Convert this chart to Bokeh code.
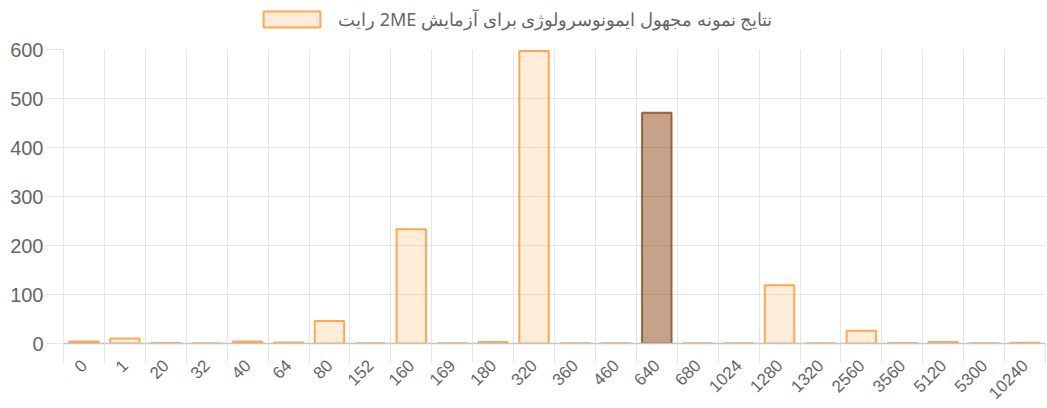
import math
from bokeh.plotting import figure
from bokeh.layouts import column
from bokeh.models import ColumnDataSource, FixedTicker, Legend, LegendItem, Range1d
from bokeh.embed import file_html
from bokeh.resources import INLINE

categories = ["0", "1", "20", "32", "40", "64", "80", "152", "160", "169", "180", "320",
              "360", "460", "640", "680", "1024", "1280", "1320", "2560", "3560", "5120",
              "5300", "10240"]
values = [4, 10, 1, 0.5, 4, 2, 46, 0.5, 233, 0.5, 3, 597,
          0.5, 0.5, 471, 0.5, 0.5, 119, 0.5, 26, 1, 3, 0.5, 1.5]
highlight = "640"
series_label = "نتایج نمونه مجهول ایمونوسرولوژی برای آزمایش 2ME رایت"
y_ticks = [0, 100, 200, 300, 400, 500, 600]

base_fill = "#FF9F40"
hi_fill = "#8B4513"

n = len(categories)
xs = [i + 0.5 for i in range(n)]
fills = [hi_fill if c == highlight else base_fill for c in categories]
fill_alpha = [0.5 if c == highlight else 0.2 for c in categories]
lines = [hi_fill if c == highlight else base_fill for c in categories]
line_alpha = [0.8 if c == highlight else 0.9 for c in categories]

src = ColumnDataSource(dict(x=xs, top=values, fill=fills, fa=fill_alpha, line=lines, la=line_alpha))

# ---- legend strip on top (frames are aligned with the main chart by the column layout) ----
lg = figure(width=1047, height=37, output_backend="svg", toolbar_location=None,
            x_range=Range1d(0, n), y_range=Range1d(0, 600),
            min_border_left=63, min_border_right=2, min_border_top=0, min_border_bottom=0)
lg.axis.visible = False
lg.grid.visible = False
lg.outline_line_color = None
legend_r = lg.vbar(x="x", top="top", bottom=0, width=0.72, source=src,
                   fill_color="fill", fill_alpha="fa", line_color="line", line_alpha="la",
                   line_width=2, visible=False)
legend = Legend(items=[LegendItem(label="\u202b" + series_label + "\u202c", renderers=[legend_r], index=0)],
                orientation="horizontal", location=(193, 6),
                glyph_width=71, glyph_height=20, label_text_font="Noto Sans",
                label_text_font_size="18px", label_text_color="#666666",
                border_line_color=None, background_fill_alpha=0,
                padding=0, margin=0, spacing=0, label_standoff=11)
lg.add_layout(legend, "center")

# ---- main chart ----
p = figure(width=1047, height=371, output_backend="svg", toolbar_location=None,
           x_range=Range1d(0, n), y_range=Range1d(0, 600),
           min_border_left=63, min_border_right=2, min_border_bottom=65, min_border_top=12)
p.outline_line_color = None

r = p.vbar(x="x", top="top", bottom=0, width=0.72, source=src,
           fill_color="fill", fill_alpha="fa", line_color="line", line_alpha="la", line_width=2)

# x axis: labels at category centres, tick marks and grid at category boundaries
p.xaxis.ticker = FixedTicker(ticks=xs, minor_ticks=list(range(n + 1)))
p.xaxis.major_label_overrides = {x: c for x, c in zip(xs, categories)}
p.xaxis.major_tick_line_color = None
p.xaxis.minor_tick_out = 19
p.xaxis.minor_tick_in = 0
p.xaxis.minor_tick_line_color = "#e6e6e6"
p.xaxis.axis_line_color = "#c4c4c4"
p.xaxis.axis_line_width = 1.5
p.xaxis.major_label_orientation = math.pi / 4
p.xaxis.major_label_text_font = "Liberation Sans"
p.xaxis.major_label_text_font_size = "17px"
p.xaxis.major_label_text_color = "#666666"
p.xaxis.major_label_standoff = 0
p.xgrid.ticker = FixedTicker(ticks=list(range(n + 1)))
p.xgrid.grid_line_color = "#e6e6e6"

p.yaxis.ticker = FixedTicker(ticks=y_ticks)
p.yaxis.minor_tick_line_color = None
p.yaxis.major_tick_out = 18
p.yaxis.major_tick_in = 0
p.yaxis.major_tick_line_color = "#e6e6e6"
p.yaxis.axis_line_color = "#e6e6e6"
p.yaxis.major_label_text_font = "Liberation Sans"
p.yaxis.major_label_text_font_size = "20px"
p.yaxis.major_label_text_color = "#666666"
p.yaxis.major_label_standoff = 2
p.ygrid.grid_line_color = "#e6e6e6"

page = column(lg, p, spacing=0)
open("out.html", "w").write(file_html(page, INLINE))
